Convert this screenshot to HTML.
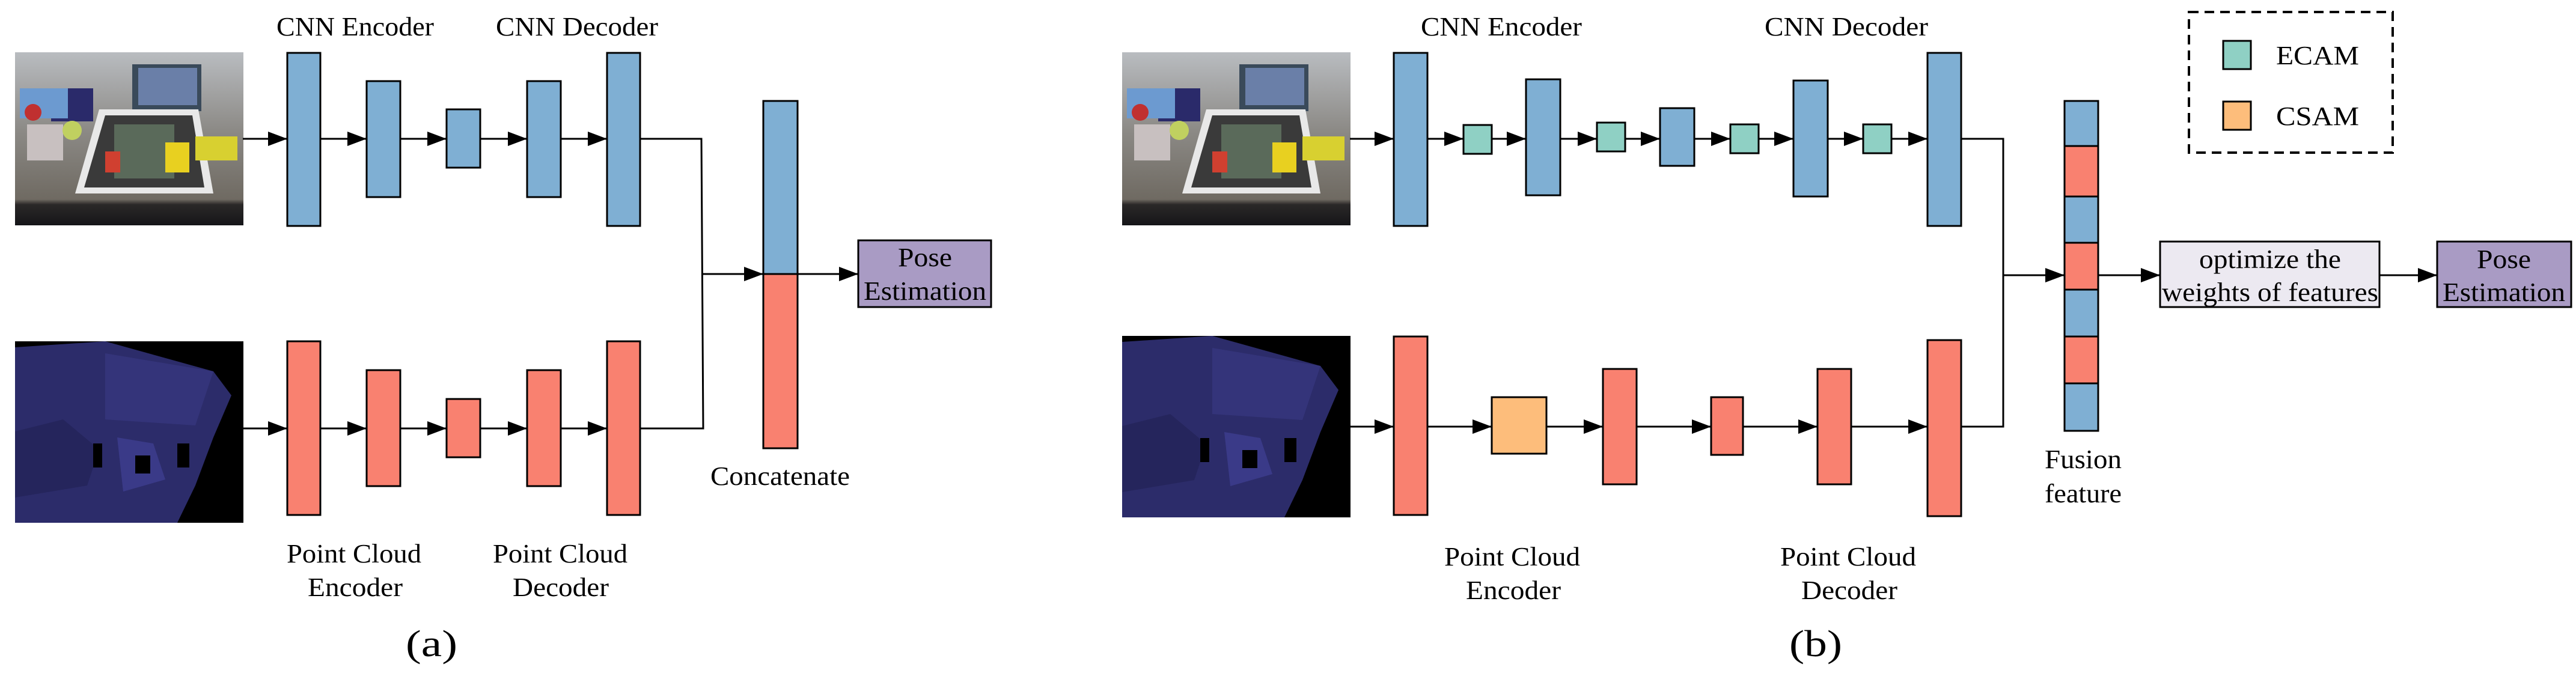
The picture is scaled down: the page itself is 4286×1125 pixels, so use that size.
<!DOCTYPE html>
<html><head><meta charset="utf-8"><style>
html,body{margin:0;padding:0;background:#fff;}
svg{display:block;}
svg text{font-family:"Liberation Serif","Times New Roman","DejaVu Serif",serif !important;font-size:44px;fill:#000;}
</style></head><body>
<svg width="4286" height="1125" viewBox="0 0 4286 1125" xmlns="http://www.w3.org/2000/svg" font-family="'Liberation Serif', 'DejaVu Serif', serif">
<defs>
<marker id="ah" markerWidth="32" markerHeight="24" refX="32" refY="12" orient="auto" markerUnits="userSpaceOnUse">
<path d="M0,0 L32,12 L0,24 Z" fill="#000"/>
</marker>
<linearGradient id="rgbg" x1="0" y1="0" x2="0" y2="1">
<stop offset="0" stop-color="#b9bcc0"/><stop offset="0.45" stop-color="#8c8a86"/><stop offset="0.85" stop-color="#6f6a62"/><stop offset="0.88" stop-color="#2a2828"/><stop offset="1" stop-color="#151518"/>
</linearGradient>
<g id="rgb">
<rect x="0" y="0" width="380" height="288" fill="url(#rgbg)"/>
<rect x="195" y="20" width="115" height="78" fill="#3a4a5a"/>
<rect x="205" y="26" width="98" height="62" fill="#6a7fa8"/>
<rect x="60" y="60" width="70" height="55" fill="#2a2a6a"/>
<rect x="8" y="60" width="80" height="50" fill="#6c9ad0"/>
<polygon points="100,235 330,235 305,95 140,95" fill="#e8e8e8"/>
<polygon points="115,225 315,225 295,105 150,105" fill="#3a3a3a"/>
<rect x="165" y="120" width="100" height="90" fill="#5a6a5a"/>
<rect x="250" y="150" width="40" height="50" fill="#e8d020"/>
<rect x="300" y="140" width="70" height="40" fill="#d8d030"/>
<rect x="20" y="120" width="60" height="60" fill="#c8c0c0"/>
<circle cx="95" cy="130" r="16" fill="#c0d060"/>
<circle cx="30" cy="100" r="14" fill="#c03030"/>
<rect x="150" y="165" width="25" height="35" fill="#d04030"/>
</g>
<g id="dep">
<rect x="0" y="0" width="380" height="302" fill="#000"/>
<polygon points="0,10 150,0 330,50 360,90 330,160 300,240 270,302 0,302" fill="#2c2c6a"/>
<polygon points="150,20 330,50 300,140 150,130" fill="#34347a"/>
<polygon points="0,150 80,130 140,180 120,240 0,260" fill="#25255c"/>
<polygon points="170,160 230,170 250,230 180,250" fill="#3a3a88"/>
<rect x="130" y="170" width="15" height="40" fill="#000"/>
<rect x="200" y="190" width="25" height="30" fill="#000"/>
<rect x="270" y="170" width="20" height="40" fill="#000"/>
</g>
</defs>

<!-- ===== (a) ===== -->
<use href="#rgb" x="25" y="87"/>
<use href="#dep" x="25" y="568"/>
<g stroke="#000" stroke-width="3">
<rect x="478" y="88" width="55" height="288" fill="#7FAFD3"/>
<rect x="610" y="135" width="56" height="193" fill="#7FAFD3"/>
<rect x="743" y="182" width="56" height="97" fill="#7FAFD3"/>
<rect x="877" y="135" width="56" height="193" fill="#7FAFD3"/>
<rect x="1010" y="88" width="55" height="288" fill="#7FAFD3"/>
<rect x="478" y="568" width="55" height="289" fill="#F98170"/>
<rect x="610" y="616" width="56" height="193" fill="#F98170"/>
<rect x="743" y="664" width="56" height="97" fill="#F98170"/>
<rect x="877" y="616" width="56" height="193" fill="#F98170"/>
<rect x="1010" y="568" width="55" height="289" fill="#F98170"/>
<rect x="1270" y="168" width="57" height="288" fill="#7FAFD3"/>
<rect x="1270" y="456" width="57" height="290" fill="#F98170"/>
<rect x="1428" y="400" width="221" height="111" fill="#A99BC4"/>
</g>
<g stroke="#000" stroke-width="3" fill="none">
<line x1="404" y1="231" x2="478" y2="231" marker-end="url(#ah)"/>
<line x1="533" y1="231" x2="610" y2="231" marker-end="url(#ah)"/>
<line x1="666" y1="231" x2="743" y2="231" marker-end="url(#ah)"/>
<line x1="799" y1="231" x2="877" y2="231" marker-end="url(#ah)"/>
<line x1="933" y1="231" x2="1010" y2="231" marker-end="url(#ah)"/>
<line x1="404" y1="713" x2="478" y2="713" marker-end="url(#ah)"/>
<line x1="533" y1="713" x2="610" y2="713" marker-end="url(#ah)"/>
<line x1="666" y1="713" x2="743" y2="713" marker-end="url(#ah)"/>
<line x1="799" y1="713" x2="877" y2="713" marker-end="url(#ah)"/>
<line x1="933" y1="713" x2="1010" y2="713" marker-end="url(#ah)"/>
<polyline points="1065,231 1167,231 1170,713 1065,713"/>
<line x1="1169" y1="456" x2="1270" y2="456" marker-end="url(#ah)"/>
<line x1="1327" y1="456" x2="1428" y2="456" marker-end="url(#ah)"/>
</g>
<g text-anchor="middle">
<text x="591" y="59" textLength="262" lengthAdjust="spacingAndGlyphs">CNN Encoder</text>
<text x="960" y="59" textLength="270" lengthAdjust="spacingAndGlyphs">CNN Decoder</text>
<text x="589" y="936" textLength="224" lengthAdjust="spacingAndGlyphs">Point Cloud</text>
<text x="591" y="992" textLength="158" lengthAdjust="spacingAndGlyphs">Encoder</text>
<text x="932" y="936" textLength="224" lengthAdjust="spacingAndGlyphs">Point Cloud</text>
<text x="933" y="992" textLength="160" lengthAdjust="spacingAndGlyphs">Decoder</text>
<text x="1298" y="807" textLength="232" lengthAdjust="spacingAndGlyphs">Concatenate</text>
<text x="1539" y="443" textLength="90" lengthAdjust="spacingAndGlyphs">Pose</text>
<text x="1539" y="499" textLength="204" lengthAdjust="spacingAndGlyphs">Estimation</text>
<text x="718" y="1092" style="font-size:62px" textLength="86" lengthAdjust="spacingAndGlyphs">(a)</text>
</g>

<!-- ===== (b) ===== -->
<use href="#rgb" x="1867" y="87"/>
<use href="#dep" x="1867" y="559"/>
<g stroke="#000" stroke-width="3">
<rect x="2319" y="88" width="56" height="288" fill="#7FAFD3"/>
<rect x="2539" y="132" width="57" height="193" fill="#7FAFD3"/>
<rect x="2762" y="180" width="57" height="96" fill="#7FAFD3"/>
<rect x="2984" y="134" width="57" height="193" fill="#7FAFD3"/>
<rect x="3207" y="88" width="56" height="288" fill="#7FAFD3"/>
<rect x="2435" y="208" width="47" height="48" fill="#8FD0C4"/>
<rect x="2657" y="204" width="47" height="48" fill="#8FD0C4"/>
<rect x="2879" y="207" width="47" height="48" fill="#8FD0C4"/>
<rect x="3100" y="207" width="47" height="48" fill="#8FD0C4"/>
<rect x="2319" y="560" width="56" height="297" fill="#F98170"/>
<rect x="2482" y="661" width="91" height="94" fill="#FDBD7B"/>
<rect x="2667" y="614" width="56" height="192" fill="#F98170"/>
<rect x="2847" y="661" width="53" height="96" fill="#F98170"/>
<rect x="3024" y="614" width="56" height="192" fill="#F98170"/>
<rect x="3207" y="566" width="56" height="293" fill="#F98170"/>
<rect x="3435" y="168" width="56" height="75" fill="#7FAFD3"/>
<rect x="3435" y="243" width="56" height="84" fill="#F98170"/>
<rect x="3435" y="327" width="56" height="77" fill="#7FAFD3"/>
<rect x="3435" y="404" width="56" height="78" fill="#F98170"/>
<rect x="3435" y="482" width="56" height="78" fill="#7FAFD3"/>
<rect x="3435" y="560" width="56" height="78" fill="#F98170"/>
<rect x="3435" y="638" width="56" height="79" fill="#7FAFD3"/>
<rect x="3594" y="402" width="365" height="109" fill="#ECE9F1"/>
<rect x="4055" y="402" width="223" height="109" fill="#A99BC4"/>
<rect x="3699" y="68" width="46" height="47" fill="#8FD0C4"/>
<rect x="3699" y="169" width="46" height="47" fill="#FDBD7B"/>
</g>
<rect x="3642" y="20" width="339" height="234" fill="none" stroke="#000" stroke-width="4" stroke-dasharray="16,10"/>
<g stroke="#000" stroke-width="3" fill="none">
<line x1="2246" y1="231" x2="2319" y2="231" marker-end="url(#ah)"/>
<line x1="2375" y1="231" x2="2435" y2="231" marker-end="url(#ah)"/>
<line x1="2482" y1="231" x2="2539" y2="231" marker-end="url(#ah)"/>
<line x1="2596" y1="231" x2="2657" y2="231" marker-end="url(#ah)"/>
<line x1="2704" y1="231" x2="2762" y2="231" marker-end="url(#ah)"/>
<line x1="2819" y1="231" x2="2879" y2="231" marker-end="url(#ah)"/>
<line x1="2926" y1="231" x2="2984" y2="231" marker-end="url(#ah)"/>
<line x1="3041" y1="231" x2="3100" y2="231" marker-end="url(#ah)"/>
<line x1="3147" y1="231" x2="3207" y2="231" marker-end="url(#ah)"/>
<line x1="2246" y1="710" x2="2319" y2="710" marker-end="url(#ah)"/>
<line x1="2375" y1="710" x2="2482" y2="710" marker-end="url(#ah)"/>
<line x1="2573" y1="710" x2="2667" y2="710" marker-end="url(#ah)"/>
<line x1="2723" y1="710" x2="2847" y2="710" marker-end="url(#ah)"/>
<line x1="2900" y1="710" x2="3024" y2="710" marker-end="url(#ah)"/>
<line x1="3080" y1="710" x2="3207" y2="710" marker-end="url(#ah)"/>
<polyline points="3263,231 3333,231 3333,710 3263,710"/>
<line x1="3333" y1="458" x2="3435" y2="458" marker-end="url(#ah)"/>
<line x1="3491" y1="458" x2="3594" y2="458" marker-end="url(#ah)"/>
<line x1="3959" y1="458" x2="4055" y2="458" marker-end="url(#ah)"/>
</g>
<g text-anchor="middle">
<text x="2498" y="59" textLength="268" lengthAdjust="spacingAndGlyphs">CNN Encoder</text>
<text x="3072" y="59" textLength="272" lengthAdjust="spacingAndGlyphs">CNN Decoder</text>
<text x="2516" y="941" textLength="226" lengthAdjust="spacingAndGlyphs">Point Cloud</text>
<text x="2518" y="997" textLength="158" lengthAdjust="spacingAndGlyphs">Encoder</text>
<text x="3075" y="941" textLength="226" lengthAdjust="spacingAndGlyphs">Point Cloud</text>
<text x="3077" y="997" textLength="160" lengthAdjust="spacingAndGlyphs">Decoder</text>
<text x="3466" y="779" textLength="128" lengthAdjust="spacingAndGlyphs">Fusion</text>
<text x="3466" y="836" textLength="128" lengthAdjust="spacingAndGlyphs">feature</text>
<text x="3777" y="446" textLength="236" lengthAdjust="spacingAndGlyphs">optimize the</text>
<text x="3777" y="501" textLength="360" lengthAdjust="spacingAndGlyphs">weights of features</text>
<text x="4166" y="446" textLength="90" lengthAdjust="spacingAndGlyphs">Pose</text>
<text x="4166" y="501" textLength="204" lengthAdjust="spacingAndGlyphs">Estimation</text>
<text x="3856" y="107" textLength="138" lengthAdjust="spacingAndGlyphs">ECAM</text>
<text x="3856" y="208" textLength="138" lengthAdjust="spacingAndGlyphs">CSAM</text>
<text x="3021" y="1092" style="font-size:62px" textLength="88" lengthAdjust="spacingAndGlyphs">(b)</text>
</g>
</svg>
</body></html>
